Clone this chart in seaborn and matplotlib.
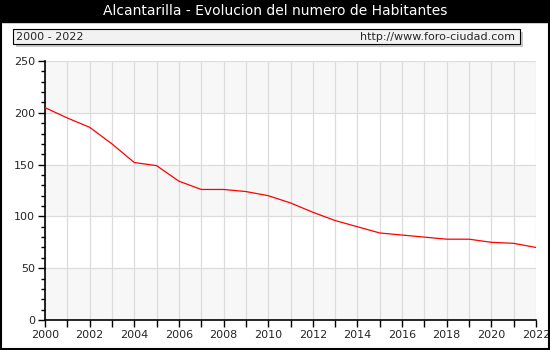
import numpy as np
import pandas as pd
import matplotlib
matplotlib.use("Agg")
import matplotlib.pyplot as plt
from matplotlib.patches import Rectangle
import seaborn as sns

years = list(range(2000, 2023))
habitantes = [205, 195, 186, 170, 152, 149, 134, 126, 126, 124, 120, 113,
              104, 96, 90, 84, 82, 80, 78, 78, 75, 74, 70]
title = "Alcantarilla - Evolucion del numero de Habitantes"
periodo = "2000 - 2022"
web = "http://www.foro-ciudad.com"

df = pd.DataFrame({"year": years, "habitantes": habitantes})

sns.set_style("white")
plt.rcParams["font.family"] = ["DejaVu Sans"]

fig = plt.figure(figsize=(5.5, 3.5), dpi=100)
W, H = 550, 350

def fx(px):
    return px / W

def fy(py):
    return 1 - py / H

# title bar
fig.patches.append(Rectangle((0, fy(22)), 1, 22 / H, transform=fig.transFigure,
                             color="black", zorder=0))
fig.text(0.5, fy(11), title, color="white", ha="center", va="center", fontsize=10)

# subtitle box with shadow
fig.patches.append(Rectangle((fx(16), fy(47)), fx(507), 15 / H, transform=fig.transFigure,
                             facecolor="#c8c8c8", edgecolor="none", zorder=0))
fig.patches.append(Rectangle((fx(13), fy(44)), fx(507), 15 / H, transform=fig.transFigure,
                             facecolor="#f2f2f2", edgecolor="black", linewidth=0.8, zorder=1))
fig.text(fx(16), fy(36.5), periodo, ha="left", va="center", fontsize=8)
fig.text(fx(515), fy(36.5), web, ha="right", va="center", fontsize=8)

# outer border
fig.patches.append(Rectangle((0.001, 0.002), 0.997, 0.996, transform=fig.transFigure,
                             facecolor="none", edgecolor="black", linewidth=1.5, zorder=2))

ax = fig.add_axes([fx(45), fy(320), fx(491), 259 / H])
ax.set_facecolor("white")

# alternating bands
for lo in (0, 100, 200):
    ax.axhspan(lo, lo + 50, color="#f7f7f7", zorder=0, lw=0)

sns.lineplot(data=df, x="year", y="habitantes", ax=ax, color="red", linewidth=0.9, zorder=3)

ax.set_xlim(2000, 2022)
ax.set_ylim(0, 250)
ax.set_xticks(range(2000, 2023, 2))
ax.set_xticks(range(2000, 2023), minor=True)
ax.set_yticks(range(0, 251, 50))
ax.set_yticks(range(0, 251, 10), minor=True)
ax.grid(True, which="both", axis="x", color="#dcdcdc", linewidth=0.9, zorder=1)
ax.grid(True, which="major", axis="y", color="#dcdcdc", linewidth=0.9, zorder=1)
ax.set_axisbelow(True)
ax.tick_params(axis="both", which="major", direction="out", length=5, width=1,
               labelsize=8, color="black", pad=2)
ax.tick_params(axis="x", which="minor", direction="out", length=5, width=1, color="black")
ax.tick_params(axis="y", which="minor", direction="out", length=3, width=1, color="black")
ax.tick_params(left=True, bottom=True, which="both")
for s in ("top", "right"):
    ax.spines[s].set_visible(False)
for s in ("left", "bottom"):
    ax.spines[s].set_color("black")
    ax.spines[s].set_linewidth(1.2)
ax.set_xlabel("")
ax.set_ylabel("")

fig.savefig("out.png", dpi=100)
